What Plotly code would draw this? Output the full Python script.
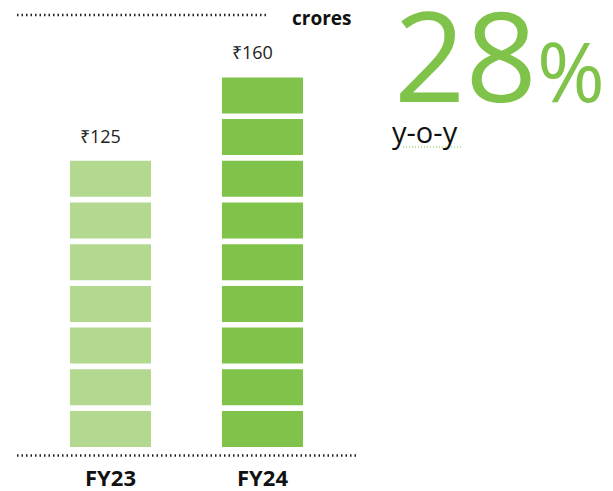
import plotly.graph_objects as go

# ---- data ----
categories = ["FY23", "FY24"]
values = [125, 160]           # ₹ crores
segments = [7, 9]             # number of blocks drawn per bar
bar_colors = ["#b3d88f", "#80c34a"]
growth_label = "28"
growth_caption = "y-o-y"
unit_label = "crores"

# page has an 8px body margin; figure sized to fit the 613x491 window
OFF = 8
W, H = 613 - OFF, 491 - OFF
PLOT_BOTTOM = 455            # fig px of plot-area bottom
PX_PER_UNIT = 41.7
ZERO_PX = 447 - OFF
SEG_FRAC = 36 / 41.7

fig = go.Figure()
max_seg = max(segments)
for k in range(max_seg):
    xs = [c for c, n in zip(categories, segments) if n > k]
    cols = [col for col, n in zip(bar_colors, segments) if n > k]
    fig.add_trace(go.Bar(
        x=xs, y=[SEG_FRAC] * len(xs), base=[k] * len(xs),
        marker=dict(color=cols, line=dict(width=0)),
        width=0.533, showlegend=False, hoverinfo="skip"))

# value labels
for c, v, n in zip(categories, values, segments):
    fig.add_annotation(x=c, y=n - 1 + SEG_FRAC, text=f"₹{v}", showarrow=False,
                       xanchor="center", yanchor="bottom", xshift=-10, yshift=11,
                       font=dict(family="Open Sans", size=18, color="#222"))

def px_x(p):
    return (p - OFF) / W

def px_y(p):
    return 1 - (p - OFF) / PLOT_BOTTOM

ymin = -(PLOT_BOTTOM - ZERO_PX) / PX_PER_UNIT
ymax = ZERO_PX / PX_PER_UNIT
c0 = 110.5 - OFF
fig.update_layout(
    width=W, height=H,
    margin=dict(l=0, r=0, t=0, b=H - PLOT_BOTTOM),
    plot_bgcolor="white", paper_bgcolor="white",
    barmode="overlay",
    xaxis=dict(range=[-c0 / 152, (W - c0) / 152], showgrid=False, zeroline=False,
               showline=False, ticks="", tickfont=dict(family="Open Sans", size=22,
               color="#111", weight="bold")),
    yaxis=dict(range=[ymin, ymax], visible=False),
    shapes=[
        dict(type="line", xref="paper", yref="paper", x0=px_x(17), x1=px_x(267),
             y0=px_y(15), y1=px_y(15), line=dict(color="#222", width=2.5, dash="1.5px,3px")),
        dict(type="line", xref="paper", yref="paper", x0=px_x(17), x1=px_x(357),
             y0=px_y(455.5), y1=px_y(455.5), line=dict(color="#222", width=2.5, dash="1.5px,3px")),
        dict(type="line", xref="paper", yref="paper", x0=px_x(403), x1=px_x(461),
             y0=px_y(147), y1=px_y(147), line=dict(color="#80c34a", width=1.2, dash="1px,2px")),
    ],
)

fig.add_annotation(xref="paper", yref="paper", x=px_x(290), y=px_y(18), text=unit_label,
                   showarrow=False, xanchor="left", yanchor="middle",
                   font=dict(family="Open Sans", size=19, color="#111", weight="bold"))
fig.add_annotation(xref="paper", yref="paper", x=px_x(392), y=px_y(-34),
                   text=growth_label + "<span style='font-size:82px'>%</span>",
                   showarrow=False, xanchor="left", yanchor="top",
                   font=dict(family="Open Sans", size=125, color="#80c34a", weight=400))
fig.add_annotation(xref="paper", yref="paper", x=px_x(390), y=px_y(132), text=growth_caption,
                   showarrow=False, xanchor="left", yanchor="middle",
                   font=dict(family="Open Sans", size=29, color="#111"))

fig.write_html("out.html")
